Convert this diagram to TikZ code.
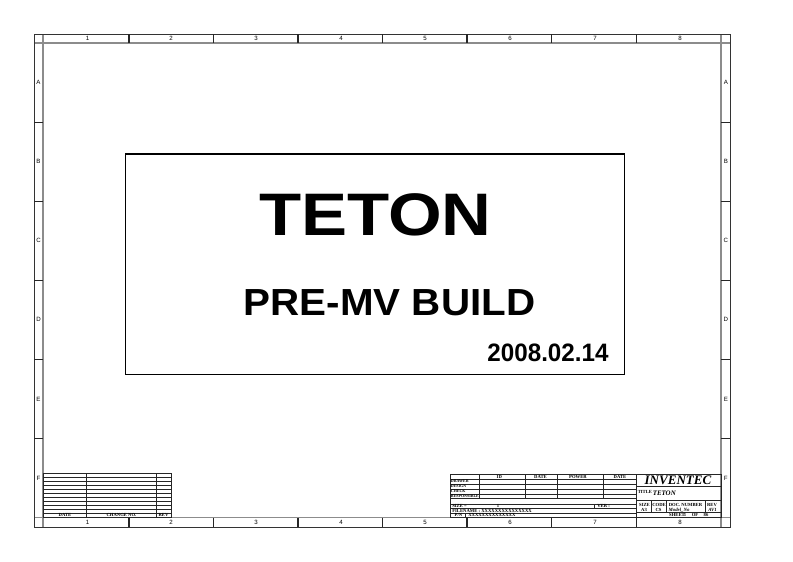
\documentclass[tikz,border=0pt]{standalone}
\usepackage{fontspec}
\setmainfont{Liberation Serif}
\setsansfont{Liberation Sans}
\usetikzlibrary{positioning}
\tikzset{
    outframe/.style = {draw=black!80, line width=0.7pt},
    inframe/.style = {draw=black!45, line width=1.4pt},
    tick/.style = {draw=black!85, line width=0.8pt},
    grid/.style = {draw=black!85, line width=0.5pt},
    zone/.style = {font=\sffamily\fontsize{4.6}{4.6}\selectfont, inner sep=0pt},
    tiny/.style = {font=\bfseries\fontsize{3.5}{3.5}\selectfont, inner sep=0pt},
    bigtitle/.style = {font=\sffamily\bfseries, inner sep=0pt}
}
\begin{document}
\begin{tikzpicture}[x=0.75pt, y=-0.75pt]
    \useasboundingbox (0,0) rectangle (793,561);
    % frame
    \draw [inframe] (34,43) -- (730,43);
    \draw [inframe] (34,517.5) -- (730,517.5);
    \draw [inframe] (43,34) -- (43,527);
    \draw [inframe] (721,34) -- (721,527);
    \draw [outframe] (34,34) rectangle (730,527);
    \foreach \x in {129,213.5,298,382.5,467,551.5,636.25} {
        \draw [tick] (\x,34) -- (\x,43);
        \draw [tick] (\x,517.5) -- (\x,527);
    }
    \foreach \y in {122.1,201.2,280.2,359.3,438.4} {
        \draw [tick] (34,\y) -- (43,\y);
        \draw [tick] (721,\y) -- (730,\y);
    }
    \foreach \x [count=\i] in {87.5,171,256,341,425,510,595,680} {
        \node [zone, name=top\i] at (\x,38.6) {\i};
        \node [zone, name=bot\i] at (\x,522.3) {\i};
    }
    \foreach \y/\l in {82.5/A,161.6/B,240.7/C,319.8/D,398.9/E,478/F} {
        \node [zone, name=left\l] at (38.5,\y) {\l};
        \node [zone, name=right\l] at (725.8,\y) {\l};
    }

    % cover box
    \draw [line width=0.9pt] (125.7,154) rectangle (624.3,374.3);
    \node [bigtitle, name=title, font=\sffamily\bfseries\fontsize{45}{45}\selectfont, xscale=1.15] at (375.5,214.5) {TETON};
    \node [bigtitle, name=build, font=\sffamily\bfseries\fontsize{28.3}{28.3}\selectfont, xscale=1.07] at (389.5,302.5) {PRE-MV BUILD};
    \node [bigtitle, name=date, font=\sffamily\bfseries\fontsize{18.9}{18.9}\selectfont, xscale=0.96] at (548,353) {2008.02.14};

    % revision block
    \draw [grid] (43,473) rectangle (171.7,517.5);
    \draw [grid] (86.7,473) -- (86.7,517.5);
    \draw [grid] (156,473) -- (156,517.5);
    \foreach \k in {1,...,10}
        \draw [grid] (43,473+\k*4.03) -- (171.7,473+\k*4.03);
    \node [tiny, name=revdate] at (65,515.3) {DATE};
    \node [tiny, name=revchange] at (121.5,515.3) {CHANGE NO.};
    \node [tiny, name=revrev] at (163.5,515.3) {REV};

    % title block
    \draw [grid] (450,474.5) rectangle (721,517.5);
    \draw [grid] (636.25,474.5) -- (636.25,517.5);
    \foreach \x in {479.3,525.7,557.3,603.3}
        \draw [grid] (\x,474.5) -- (\x,498.8);
    \foreach \y in {479,483.95,488.9,493.85,498.8,504,508.7,513.2}
        \draw [grid] (450,\y) -- (636.25,\y);
    \draw [grid] (594,504) -- (594,508.7);
    \draw [grid] (465,513.2) -- (465,517.5);
    \node [tiny, name=hid] at (499.3,476.8) {ID};
    \node [tiny, name=hdate] at (540.5,476.8) {DATE};
    \node [tiny, name=hpower] at (578,476.8) {POWER};
    \node [tiny, name=hdate2] at (620,476.8) {DATE};
    \foreach \y/\t in {481.5/DRAWER,486.4/DESIGN,491.4/CHECK,496.3/RESPONSIBLE}
        \node [tiny, anchor=west, font=\bfseries\fontsize{3}{3}\selectfont] at (450.6,\y) {\t};
    \node [tiny, anchor=west, name=size] at (452,506.3) {SIZE =};
    \node [tiny, name=sizeval] at (498,506.3) {1};
    \node [tiny, anchor=west, name=ver] at (597,506.3) {VER :};
    \node [tiny, anchor=west, name=fname] at (452,511) {FILENAME : XXXXXXXXXXXXXXX};
    \node [tiny, name=pn] at (458.5,515.3) {P/N};
    \node [tiny, anchor=west, name=pnval] at (468,515.3) {XXXXXXXXXXXXXX};

    % inventec block
    \draw [grid] (636.25,486.3) -- (721,486.3);
    \draw [grid] (636.25,500.7) -- (721,500.7);
    \draw [grid] (636.25,512.3) -- (721,512.3);
    \foreach \x in {651.7,666.7,705}
        \draw [grid] (\x,500.7) -- (\x,512.3);
    \node [inner sep=0pt, name=company, font=\bfseries\itshape\fontsize{9.8}{9.8}\selectfont] at (678,480.5) {INVENTEC};
    \node [tiny, anchor=west, name=titlelbl] at (637.5,492) {TITLE};
    \node [inner sep=0pt, anchor=west, name=titleval, font=\bfseries\itshape\fontsize{5.2}{5.2}\selectfont] at (652.5,493.5) {TETON};
    \node [tiny, name=sizelbl] at (644.5,505.3) {SIZE};
    \node [tiny, name=codelbl] at (659,505.3) {CODE};
    \node [tiny, name=doclbl] at (685.5,505.3) {DOC. NUMBER};
    \node [tiny, name=revlbl] at (712,505.3) {REV};
    \node [tiny, name=sizev] at (644,509.8) {A3};
    \node [tiny, name=codev] at (658.5,509.8) {CS};
    \node [tiny, name=docv, font=\bfseries\itshape\fontsize{3.6}{3.6}\selectfont] at (679,509.8) {Model\_No};
    \node [tiny, name=revv, font=\bfseries\itshape\fontsize{3.6}{3.6}\selectfont] at (712.5,509.8) {AV1};
    \node [tiny, name=sheet] at (677,514.8) {SHEET};
    \node [tiny, name=sheetno] at (685,514.8) {1};
    \node [tiny, name=sheetof] at (695,514.8) {OF};
    \node [tiny, name=sheetall] at (706,514.8) {86};
\end{tikzpicture}
\end{document}
